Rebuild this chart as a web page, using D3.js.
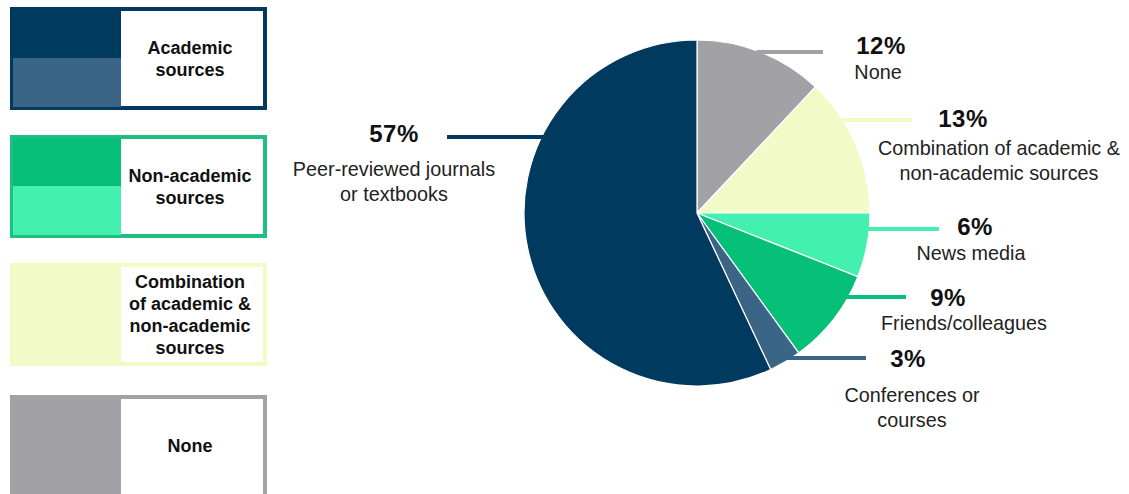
<!DOCTYPE html>
<html>
  <head>
    <meta charset="utf-8">
    <title>Sources of information</title>
    <script src="https://d3js.org/d3.v7.min.js" charset="utf-8"></script>
    <style>
      body {
        margin: 0;
        overflow: hidden;
        background: #fff;
      }
      svg text {
        font-family: "Liberation Sans", Arial, sans-serif;
        fill: #111;
      }
    </style>
  </head>
  <body>
    <script type="text/javascript">
      // slice data, clockwise from 12 o'clock
      var categories = ["None", "Combination of academic & non-academic sources", "News media",
                        "Friends/colleagues", "Conferences or courses", "Peer-reviewed journals or textbooks"];
      var values = [12, 13, 6, 9, 3, 57];
      var labelLines = [["None"], ["Combination of academic &", "non-academic sources"], ["News media"],
                        ["Friends/colleagues"], ["Conferences or", "courses"], ["Peer-reviewed journals", "or textbooks"]];
      var sliceColors = ["#a1a1a6", "#f2fbc8", "#44f0b0", "#06c07a", "#3a6586", "#003a5f"];

      // legend groups
      var legendLines = [["Academic", "sources"], ["Non-academic", "sources"],
                         ["Combination", "of academic &", "non-academic", "sources"], ["None"]];
      var legendTop = ["#003a5f", "#06c07a", "#f2fbc8", "#a1a1a6"];
      var legendBottom = ["#3a6586", "#44f0b0", "#f2fbc8", "#a1a1a6"];
      var legendBorder = ["#003a5f", "#1fbf82", "#f2fbc8", "#a1a1a6"];

      // label placement (leader line y, line end x, pct x/y, text x/y)
      var layout = [
        {ly: 52,  lx: 823, px: 881, py: 54,  tx: 878, ty: 79},
        {ly: 120, lx: 912, px: 963, py: 127, tx: 999, ty: 155},
        {ly: 229, lx: 939, px: 975, py: 235, tx: 971, ty: 260},
        {ly: 297, lx: 906, px: 948, py: 306, tx: 964, ty: 330},
        {ly: 358, lx: 866, px: 908, py: 367, tx: 912, ty: 402},
        {ly: 137, lx: 447, px: 394, py: 142, tx: 394, ty: 176}
      ];

      var width = 1129,
          height = 494,
          cx = 697,
          cy = 213,
          radius = 173;

      var svg = d3.select("body").append("svg")
                  .attr("width", width)
                  .attr("height", height);

      // legend boxes
      var boxY = [7, 135, 263, 395],
          boxH = 103;

      var leg = svg.selectAll("g.legend")
        .data(legendLines)
        .enter()
        .append("g")
        .attr("class", "legend")
        .attr("transform", function(d, i) { return "translate(10," + boxY[i] + ")"; });

      leg.append("rect")
        .attr("width", 257).attr("height", boxH)
        .attr("fill", function(d, i) { return legendBorder[i]; });
      leg.append("rect")
        .attr("x", 3).attr("y", 3).attr("width", 108).attr("height", 48)
        .attr("fill", function(d, i) { return legendTop[i]; });
      leg.append("rect")
        .attr("x", 3).attr("y", 51).attr("width", 108).attr("height", boxH - 54)
        .attr("fill", function(d, i) { return legendBottom[i]; });
      leg.append("rect")
        .attr("x", 111).attr("y", 4).attr("width", 142).attr("height", boxH - 8)
        .attr("fill", "#fff");

      leg.each(function(d) {
        var n = d.length,
            y0 = 52 - (n - 1) * 11 + 6;
        d3.select(this).selectAll("text")
          .data(d)
          .enter()
          .append("text")
          .attr("x", 180)
          .attr("y", function(t, j) { return y0 + j * 22 + (n == 1 ? -1 : 0); })
          .attr("text-anchor", "middle")
          .style("font-size", "18px")
          .style("font-weight", "bold")
          .text(function(t) { return t; });
      });

      // pie
      var pie = d3.pie().sort(null).value(function(d) { return d; });
      var arc = d3.arc().innerRadius(0).outerRadius(radius);
      var arcs = pie(values);

      var g = svg.append("g")
        .attr("transform", "translate(" + cx + "," + cy + ")");

      g.selectAll("path")
        .data(arcs)
        .enter()
        .append("path")
        .attr("d", arc)
        .attr("fill", function(d, i) { return sliceColors[i]; })
        .attr("stroke", "#fff")
        .attr("stroke-width", 1.2)
        .append("title")
        .text(function(d, i) { return categories[i] + ": " + values[i] + "%"; });

      // leader lines start at the pie edge
      svg.selectAll("line.leader")
        .data(layout)
        .enter()
        .append("line")
        .attr("class", "leader")
        .attr("x1", function(d) {
          var dy = d.ly - cy,
              dx = Math.sqrt(radius * radius - dy * dy);
          return d.lx > cx ? cx + dx - 4 : cx - dx + 4;
        })
        .attr("x2", function(d) { return d.lx; })
        .attr("y1", function(d) { return d.ly; })
        .attr("y2", function(d) { return d.ly; })
        .attr("stroke", function(d, i) { return sliceColors[i]; })
        .attr("stroke-width", 4);

      var labels = svg.selectAll("g.label")
        .data(layout)
        .enter()
        .append("g")
        .attr("class", "label");

      labels.append("text")
        .attr("x", function(d) { return d.px; })
        .attr("y", function(d) { return d.py; })
        .attr("text-anchor", "middle")
        .style("font-size", "24px")
        .style("font-weight", "bold")
        .style("letter-spacing", "0.5px")
        .text(function(d, i) { return values[i] + "%"; });

      labels.each(function(d, i) {
        d3.select(this).selectAll("text.desc")
          .data(labelLines[i])
          .enter()
          .append("text")
          .attr("class", "desc")
          .attr("x", d.tx)
          .attr("y", function(t, j) { return d.ty + j * 25; })
          .attr("text-anchor", "middle")
          .style("font-size", "19.8px")
          .style("fill", "#222")
          .text(function(t) { return t; });
      });
    </script>
  </body>
</html>
